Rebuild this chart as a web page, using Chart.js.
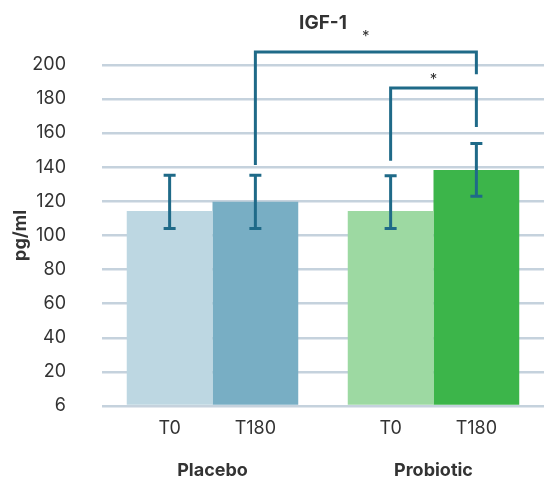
<!DOCTYPE html>
<html>
<head>
<meta charset="utf-8">
<script src="https://cdn.jsdelivr.net/npm/chart.js@4.4.1/dist/chart.umd.min.js"></script>
<style>
  html, body { margin: 0; padding: 0; background: #ffffff; }
  #wrap { width: 544px; height: 477px; }
</style>
</head>
<body>
<div id="wrap"><canvas id="chart"></canvas></div>
<script>
const groups = ["Placebo", "Probiotic"];
const timepoints = ["T0", "T180"];
const t0Means = [114.3, 114.3];
const t180Means = [119.7, 138.3];
const t0Low = [104.1, 104.1];
const t0High = [135.3, 134.9];
const t180Low = [104.1, 122.9];
const t180High = [135.3, 153.9];
const yTickLabels = ["6", "20", "40", "60", "80", "100", "120", "140", "160", "180", "200"];

// significance brackets: [dataset, index] of each end
const bracketFrom = [[1, 0], [0, 1]];
const bracketTo = [[1, 1], [1, 1]];
const bracketTop = [207.5, 186.4];
const bracketFromEnd = [141.2, 143.7];
const bracketToEnd = [194.4, 163.6];
const starLevel = [218.4, 192.9];

const inkColor = "#1f6a88";
const textColor = "#333333";

const errorBars = {
  id: "errorBars",
  afterDatasetsDraw(chart) {
    const ctx = chart.ctx;
    const y = chart.scales.y;
    const lows = [t0Low, t180Low];
    const highs = [t0High, t180High];
    ctx.save();
    ctx.strokeStyle = inkColor;
    ctx.lineWidth = 3;
    ctx.lineCap = "butt";
    [0, 1].forEach((ds) => {
      chart.getDatasetMeta(ds).data.forEach((bar, i) => {
        const x = bar.x;
        const top = y.getPixelForValue(highs[ds][i]);
        const bot = y.getPixelForValue(lows[ds][i]);
        ctx.beginPath();
        ctx.moveTo(x, top);
        ctx.lineTo(x, bot);
        ctx.moveTo(x - 6, top);
        ctx.lineTo(x + 6, top);
        ctx.moveTo(x - 6, bot);
        ctx.lineTo(x + 6, bot);
        ctx.stroke();
      });
    });
    ctx.restore();
  },
  afterDraw(chart) {
    const ctx = chart.ctx;
    const y = chart.scales.y;
    ctx.save();
    // sub labels under each bar
    ctx.fillStyle = textColor;
    ctx.font = "18px Inter";
    ctx.textAlign = "center";
    ctx.textBaseline = "middle";
    [0, 1].forEach((ds) => {
      chart.getDatasetMeta(ds).data.forEach((bar) => {
        ctx.fillText(timepoints[ds], bar.x, 428.5);
      });
    });
    // brackets
    ctx.strokeStyle = inkColor;
    ctx.lineWidth = 3;
    ctx.lineJoin = "miter";
    bracketFrom.forEach((f, k) => {
      const t = bracketTo[k];
      const x1 = chart.getDatasetMeta(f[0]).data[f[1]].x;
      const x2 = chart.getDatasetMeta(t[0]).data[t[1]].x;
      const top = y.getPixelForValue(bracketTop[k]);
      ctx.beginPath();
      ctx.moveTo(x1, y.getPixelForValue(bracketFromEnd[k]));
      ctx.lineTo(x1, top);
      ctx.lineTo(x2, top);
      ctx.lineTo(x2, y.getPixelForValue(bracketToEnd[k]));
      ctx.stroke();
      ctx.fillStyle = textColor;
      ctx.font = "15px Inter";
      ctx.fillText("*", (x1 + x2) / 2, y.getPixelForValue(starLevel[k]) + 3);
    });
    ctx.restore();
  }
};

new Chart(document.getElementById("chart"), {
  type: "bar",
  data: {
    labels: groups,
    datasets: [
      {
        label: timepoints[0],
        data: t0Means,
        backgroundColor: ["#bdd7e2", "#9dd9a2"],
        categoryPercentage: 0.776,
        barPercentage: 1
      },
      {
        label: timepoints[1],
        data: t180Means,
        backgroundColor: ["#78aec4", "#3cb54a"],
        categoryPercentage: 0.776,
        barPercentage: 1
      }
    ]
  },
  options: {
    responsive: true,
    maintainAspectRatio: false,
    animation: false,
    layout: { padding: 0 },
    scales: {
      x: {
        grid: { display: false },
        border: { display: false },
        ticks: {
          color: textColor,
          font: { family: "Inter", size: 18, weight: "bold" },
          padding: 46
        },
        afterFit: (scale) => { scale.height = 71; }
      },
      y: {
        min: 0,
        max: 200,
        z: 1,
        grid: { color: "rgba(140,165,188,0.5)", lineWidth: 2.5, drawTicks: false },
        border: { display: false },
        ticks: {
          stepSize: 20,
          color: textColor,
          padding: 36,
          font: { family: "Inter", size: 18 },
          callback: (value, index) => yTickLabels[index]
        },
        title: {
          display: true,
          text: "pg/ml",
          color: textColor,
          font: { family: "Inter", size: 18, weight: "bold" },
          padding: { top: 10, bottom: 0 }
        },
        afterFit: (scale) => { scale.width = 102; }
      }
    },
    plugins: {
      legend: { display: false },
      tooltip: { enabled: false },
      title: {
        display: true,
        text: "IGF-1",
        fullSize: false,
        color: textColor,
        font: { family: "Inter", size: 19, weight: "bold" },
        padding: { top: 12, bottom: 30 }
      }
    }
  },
  plugins: [errorBars]
});
</script>
</body>
</html>
